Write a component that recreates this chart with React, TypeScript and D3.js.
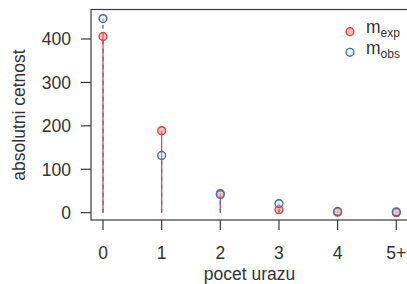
import React from "react";
import * as d3 from "d3";

// pocet urazu (number of accidents) vs. absolute frequency
const categories = ["0", "1", "2", "3", "4", "5+"];
const expected = [406, 189, 44, 7, 1, 0.1];
const observed = [447, 132, 42, 21, 3, 2];
const yTicks = [0, 100, 200, 300, 400];

const W = 407;
const H = 284;
const box = { left: 91, top: 9.5, bottom: 220 };
const RED = "#ee3a3a";
const BLUE = "#4a68b8";
const AXIS = "#3a3a3a";
const FONT = "'Liberation Sans', Arial, sans-serif";
const FS = 17.5;

const App: React.FC = () => {
  // scales
  const x = d3.scalePoint<string>().domain(categories).range([103, 396.3]);
  const y = d3.scaleLinear().domain([0, 400]).range([212.7, 39]);

  return (
    <svg
      width={W}
      height={H}
      style={{ position: "absolute", left: 0, top: 0, background: "#fff" }}
      fontFamily={FONT}
    >
      {/* plot box, right side runs out of the picture */}
      <rect
        x={box.left}
        y={box.top}
        width={W + 20 - box.left}
        height={box.bottom - box.top}
        fill="none"
        stroke={AXIS}
        strokeWidth={1.2}
      />

      {/* y axis */}
      {yTicks.map(t => (
        <g key={t}>
          <line x1={81} x2={box.left} y1={y(t)} y2={y(t)} stroke={AXIS} strokeWidth={1.2} />
          <text x={71} y={y(t)} dy="0.36em" textAnchor="end" fontSize={FS} fill="#333">
            {t}
          </text>
        </g>
      ))}
      <text
        transform={`translate(25,115) rotate(-90)`}
        textAnchor="middle"
        fontSize={FS}
        fill="#333"
      >
        absolutni cetnost
      </text>

      {/* x axis */}
      {categories.map(c => (
        <g key={c}>
          <line x1={x(c)} x2={x(c)} y1={box.bottom} y2={230} stroke={AXIS} strokeWidth={1.2} />
          <text x={x(c)} y={259} textAnchor="middle" fontSize={FS} fill="#333">
            {c}
          </text>
        </g>
      ))}
      <text x={249.6} y={280} textAnchor="middle" fontSize={FS} fill="#333">
        pocet urazu
      </text>

      {/* expected: solid red stems */}
      {categories.map((c, i) => (
        <line
          key={"e" + c}
          x1={x(c)}
          x2={x(c)}
          y1={y(0)}
          y2={y(expected[i])}
          stroke={RED}
          strokeWidth={1.2}
        />
      ))}
      {/* observed: dashed blue stems */}
      {categories.map((c, i) => (
        <line
          key={"o" + c}
          x1={x(c)}
          x2={x(c)}
          y1={y(0)}
          y2={y(observed[i])}
          stroke={BLUE}
          strokeWidth={1.2}
          strokeDasharray="4,4"
        />
      ))}

      {/* points */}
      {categories.map((c, i) => (
        <circle
          key={"pe" + c}
          cx={x(c)}
          cy={y(expected[i])}
          r={3.9}
          fill="rgba(240,120,110,0.45)"
          stroke={RED}
          strokeWidth={1.4}
        />
      ))}
      {categories.map((c, i) => (
        <circle
          key={"po" + c}
          cx={x(c)}
          cy={y(observed[i])}
          r={3.9}
          fill="rgba(200,230,200,0.35)"
          stroke={BLUE}
          strokeWidth={1.4}
        />
      ))}

      {/* legend */}
      <circle cx={350} cy={31.7} r={3.9} fill="rgba(240,120,110,0.45)" stroke={RED} strokeWidth={1.4} />
      <circle cx={350} cy={52.3} r={3.9} fill="rgba(200,230,200,0.35)" stroke={BLUE} strokeWidth={1.4} />
      <text x={366} y={33} fontSize={FS} fill="#333">
        m
        <tspan fontSize={12} dy={4}>
          exp
        </tspan>
      </text>
      <text x={366} y={53.5} fontSize={FS} fill="#333">
        m
        <tspan fontSize={12} dy={4}>
          obs
        </tspan>
      </text>
    </svg>
  );
};

export default App;
